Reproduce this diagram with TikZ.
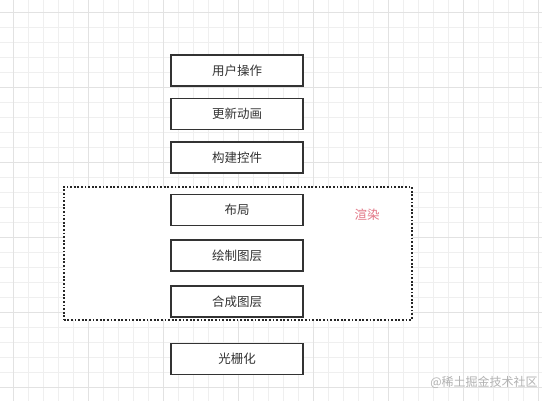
\documentclass[tikz,border=0pt]{standalone}
\usepackage{fontspec}
\setmainfont{Noto Sans CJK SC}
\usetikzlibrary{positioning}
\definecolor{gridminor}{HTML}{EFEFEF}
\definecolor{gridmajor}{HTML}{E2E2E2}
\definecolor{boxline}{HTML}{333333}
\definecolor{rendercol}{HTML}{E27585}

\begin{document}
\begin{tikzpicture}[x=1pt, y=-1pt,
    box/.style={rectangle, draw=boxline, line width=1.6pt, minimum width=132pt, minimum height=31pt, inner sep=0pt, text=boxline, font=\fontsize{12.5}{14}\selectfont},
    group/.style={rectangle, draw=black!85, line width=1.6pt, dash pattern=on 1.8pt off 1.8pt, minimum width=348pt, minimum height=133pt, inner sep=0pt}
  ]
    \useasboundingbox (0,0) rectangle (542,401);
    \fill[white] (0,0) rectangle (542,401);

    % background grid
    \foreach \gx in {0,...,35} {
        \draw[gridminor, line width=0.8pt] (13+15*\gx,0) -- (13+15*\gx,401);
    }
    \foreach \gy in {0,...,26} {
        \draw[gridminor, line width=0.8pt] (0,12+15*\gy) -- (542,12+15*\gy);
    }
    \foreach \gx in {0,...,7} {
        \draw[gridmajor, line width=0.9pt] (13+75*\gx,0) -- (13+75*\gx,401);
    }
    \foreach \gy in {0,...,5} {
        \draw[gridmajor, line width=0.9pt] (0,12+75*\gy) -- (542,12+75*\gy);
    }

    % stages
    \node[box, fill=white] (input) at (237,70.5) {用户操作};
    \node[box, fill=white] (anim) at (237,114) {更新动画};
    \node[box, fill=white] (build) at (237,157.5) {构建控件};

    % render group
    \node[group, fill=white] (render) at (237.7,253.3) {};
    \node[font=\fontsize{12.5}{14}\selectfont, text=rendercol] (renderlabel) at (367,215) {渲染};
    \node[box] (layout) at (237,210) {布局};
    \node[box] (paint) at (237,255.7) {绘制图层};
    \node[box] (composite) at (237,301.7) {合成图层};

    \node[box, fill=white] (raster) at (237,359) {光栅化};

    % watermark
    \node[font=\fontsize{12}{14}\selectfont, text=black!30] (mark) at (484,382) {@稀土掘金技术社区};
\end{tikzpicture}
\end{document}
